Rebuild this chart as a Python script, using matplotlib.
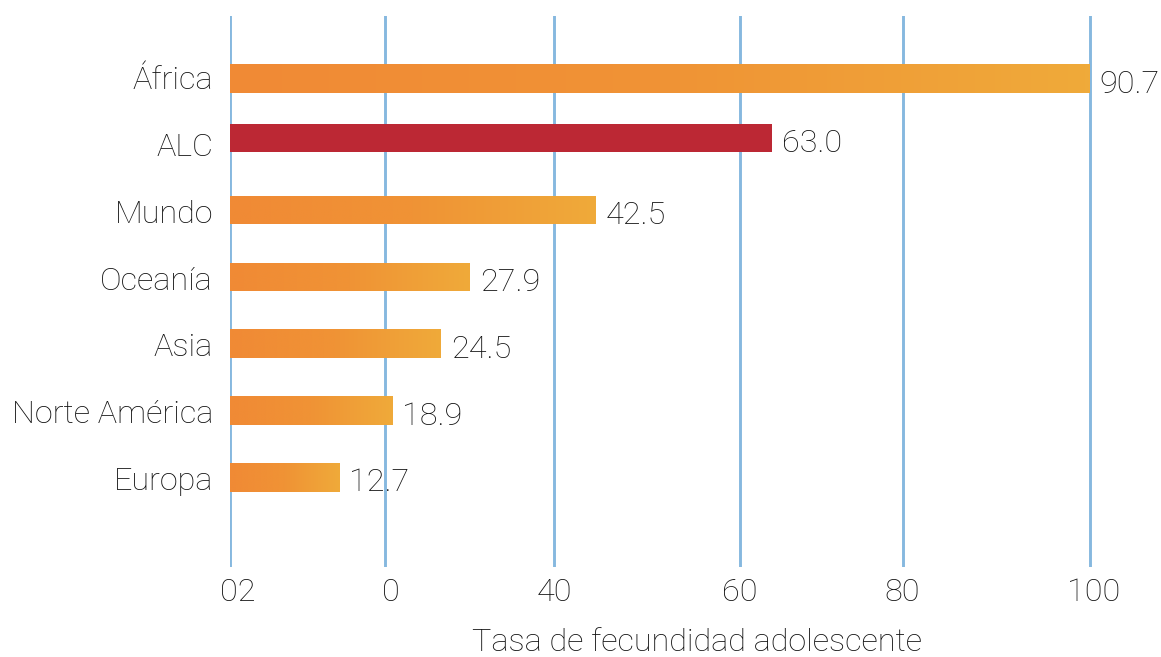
import matplotlib
matplotlib.use("Agg")
import matplotlib.pyplot as plt
import numpy as np
from matplotlib.colors import LinearSegmentedColormap

# ---- data ----
categories = ["África", "ALC", "Mundo", "Oceanía", "Asia", "Norte América", "Europa"]
values = [90.7, 63.0, 42.5, 27.9, 24.5, 18.9, 12.7]
# bar lengths as drawn in the source (África's bar reaches the "100" line)
bar_lengths = [100.0, 63.0, 42.5, 27.9, 24.5, 18.9, 12.7]
highlight = "ALC"
grid_positions = [0, 18.0, 37.7, 59.3, 78.3, 100]
tick_label_positions = [0.9, 18.7, 37.7, 59.3, 78.2, 100.5]
tick_labels = ["02", "0", "40", "60", "80", "100"]
x_label = "Tasa de fecundidad adolescente"

# ---- layout / style ----
W, H = 1161, 657
DPI = 100
PX = 72.0 / DPI  # points per pixel
bar_row_shift = [0.035, -0.078, 0, 0, 0, 0, 0]
bar_h = 0.425
FS = 23.3
TXT = "#111111"
GRID = "#86B8DF"
RED = "#BC2834"
grad_cmap = LinearSegmentedColormap.from_list("og", ["#F08A35", "#F09335", "#EFAA3A"])

plt.rcParams["font.family"] = ["Roboto", "DejaVu Sans"]
plt.rcParams["font.weight"] = "light"

fig = plt.figure(figsize=(W / DPI, H / DPI), dpi=DPI)
fig.patch.set_facecolor("white")
ax = fig.add_axes([230 / W, 1 - 567 / H, (1094 - 230) / W, (567 - 16) / H])
ax.set_xlim(0, 100)
ax.set_ylim(7.34, -0.9)

rows = np.arange(len(categories))
ybar = rows + np.array(bar_row_shift)

for gp in grid_positions:
    ax.axvline(gp, color=GRID, lw=2.1, zorder=1)

colors = [RED if c == highlight else "none" for c in categories]
bars = ax.barh(ybar, bar_lengths, height=bar_h, color=colors, zorder=2, linewidth=0)

grad = np.linspace(0, 1, 256).reshape(1, -1)
for c, b, L, y in zip(categories, bars, bar_lengths, ybar):
    if c == highlight:
        continue
    im = ax.imshow(grad, cmap=grad_cmap, aspect="auto",
                   extent=[0, L, y + bar_h / 2, y - bar_h / 2], zorder=2,
                   interpolation="bilinear")
    im.set_clip_path(b)

ax.set_xlim(0, 100)
ax.set_ylim(7.34, -0.9)

# value labels
for v, L, y in zip(values, bar_lengths, ybar):
    ax.annotate(f"{v:.1f}", xy=(L, y), xytext=(10 * PX, -14 * PX),
                textcoords="offset points", ha="left", va="baseline",
                fontsize=FS, color=TXT, zorder=0.5, annotation_clip=False)

# category labels
for c, r in zip(categories, rows):
    ax.annotate(c, xy=(0, r), xytext=(-17 * PX, -12.8 * PX),
                textcoords="offset points", ha="right", va="baseline",
                fontsize=FS, color=TXT, annotation_clip=False)

ax.set_xticks(tick_label_positions)
ax.set_xticklabels(tick_labels, fontsize=FS, color=TXT)
ax.tick_params(axis="x", length=0, pad=8)
ax.set_yticks([])
for s in ax.spines.values():
    s.set_visible(False)
ax.patch.set_alpha(0)

fig.text(697 / W, 1 - 651 / H, x_label, ha="center", va="baseline",
         fontsize=FS, color=TXT)

fig.savefig("out.png", dpi=DPI, facecolor="white")
